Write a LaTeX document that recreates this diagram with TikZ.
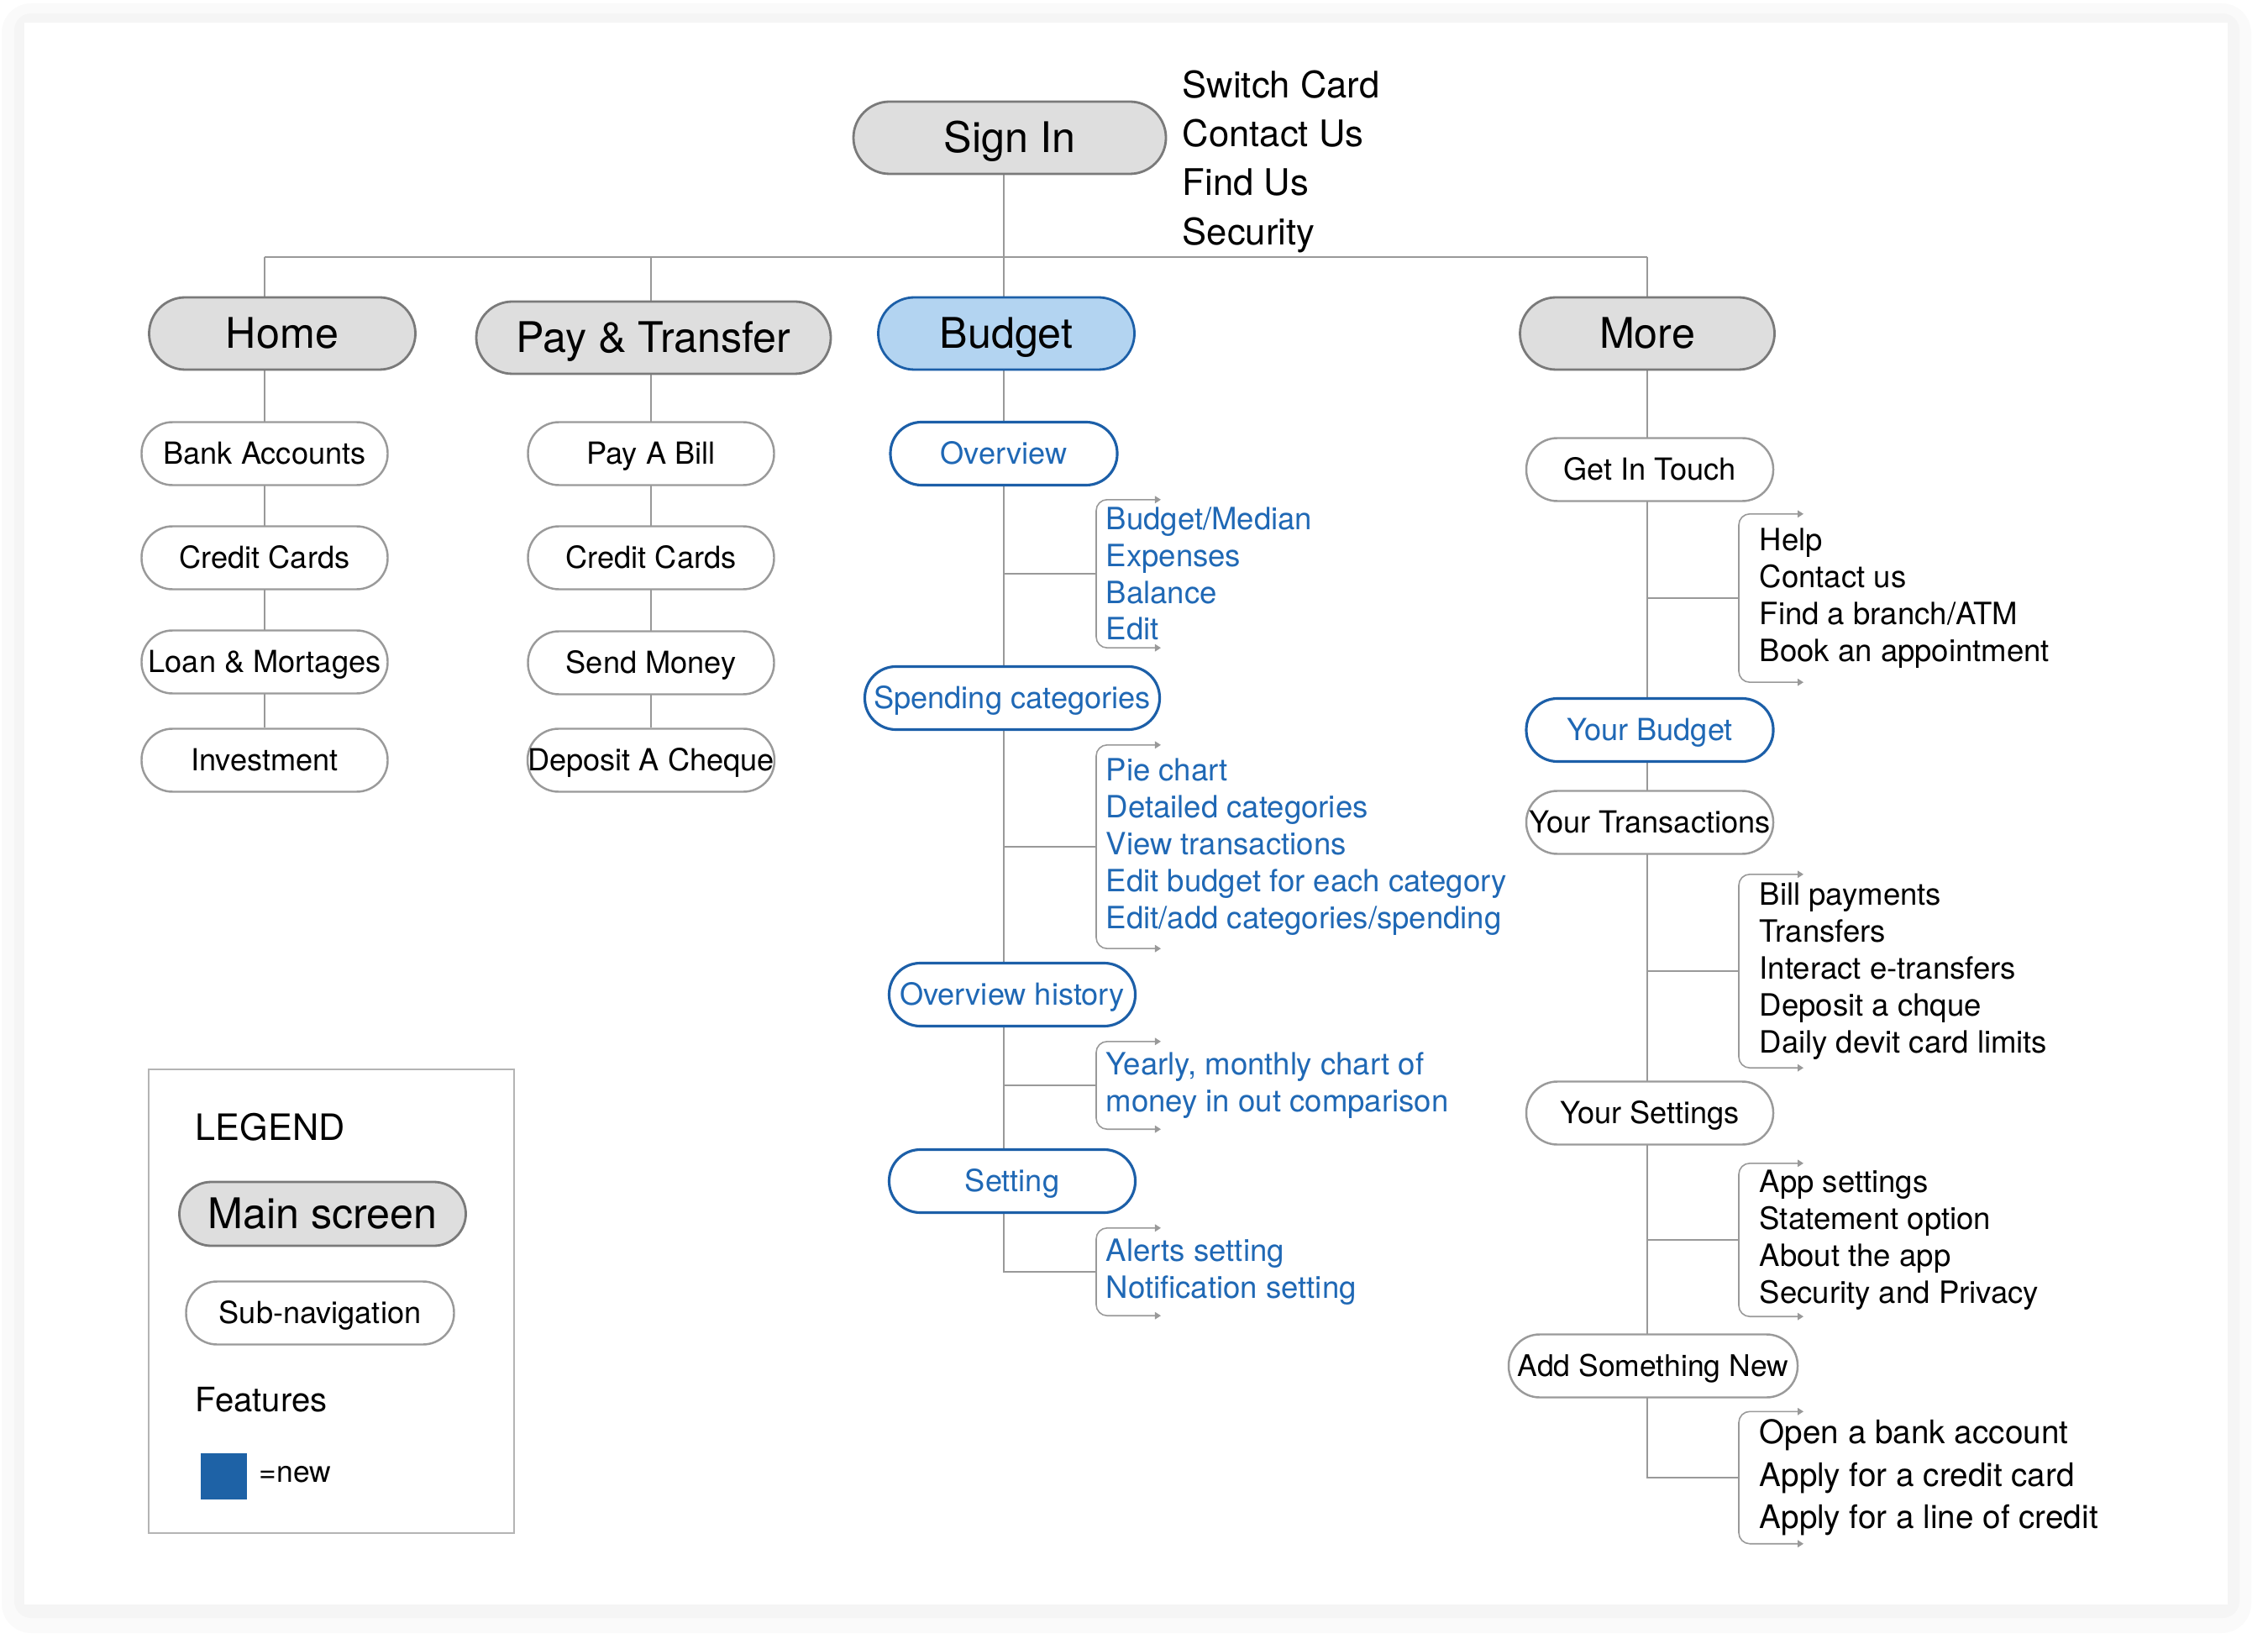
\documentclass[tikz,border=0pt]{standalone}
\usepackage{fontspec}
\setmainfont{TeX Gyre Heros}
\usetikzlibrary{arrows.meta,backgrounds}

\definecolor{mainfill}{HTML}{DEDEDE}
\definecolor{mainline}{HTML}{7A7A7A}
\definecolor{subline}{HTML}{9A9A9A}
\definecolor{linegray}{HTML}{999999}
\definecolor{newfill}{HTML}{B3D4F1}
\definecolor{newline}{HTML}{1C5FA8}
\definecolor{newtext}{HTML}{1F68B5}
\definecolor{newsq}{HTML}{1E62A6}
\definecolor{legendline}{HTML}{B4B4B4}

\begin{document}
\begin{tikzpicture}[
    mainscreen/.style={draw=mainline, fill=mainfill, line width=0.8pt, rounded corners=0.43cm,
      minimum height=0.86cm, inner sep=0pt, text height=10.3pt, text depth=0.6pt,
      font=\fontsize{14.3}{17}\selectfont},
    newmain/.style={mainscreen, draw=newline, fill=newfill},
    subnav/.style={draw=subline, fill=white, line width=0.7pt, rounded corners=0.37cm,
      minimum height=0.75cm, minimum width=2.93cm, inner sep=0pt, text height=7.4pt, text depth=0.4pt,
      font=\fontsize{10.3}{12}\selectfont},
    newsub/.style={subnav, draw=newline, line width=0.9pt, text=newtext},
    featlist/.style={anchor=west, align=left, inner ysep=0pt, font=\fontsize{10.4}{12.5}\selectfont},
    newfeat/.style={featlist, text=newtext, inner xsep=0.11cm},
    oldfeat/.style={featlist, inner xsep=0.24cm},
    link/.style={draw=linegray, line width=0.45pt},
    bracket/.style={link, rounded corners=0.13cm, >={Triangle[length=2pt,width=2.4pt]}, <->}
  ]
  \useasboundingbox (0, 0) rectangle (27, 19.62);

  % top level
  \node[mainscreen, minimum width=3.72cm] (signin) at (12.02, 17.98) {Sign In};
  \node[anchor=west, align=left, inner sep=0pt, font=\fontsize{12.4}{16.6}\selectfont] (signlist) at (14.07, 17.70)
    {Switch Card\\Contact Us\\Find Us\\Security};
  \coordinate (bus) at (0, 16.56);

  \node[mainscreen, minimum width=3.17cm] (home) at (3.36, 15.65) {Home};
  \node[mainscreen, minimum width=4.22cm] (pay) at (7.78, 15.60) {Pay \& Transfer};
  \node[newmain, minimum width=3.05cm] (budget) at (11.98, 15.65) {Budget};
  \node[mainscreen, minimum width=3.03cm] (more) at (19.61, 15.65) {More};

  % home
  \node[subnav] (bankacc) at (3.15, 14.22) {Bank Accounts};
  \node[subnav] (homecredit) at (3.15, 12.98) {Credit Cards};
  \node[subnav] (loan) at (3.15, 11.74) {Loan \& Mortages};
  \node[subnav] (invest) at (3.15, 10.57) {Investment};

  % pay & transfer
  \node[subnav] (paybill) at (7.75, 14.22) {Pay A Bill};
  \node[subnav] (paycredit) at (7.75, 12.98) {Credit Cards};
  \node[subnav] (sendmoney) at (7.75, 11.73) {Send Money};
  \node[subnav] (cheque) at (7.75, 10.57) {Deposit A Cheque};

  % budget
  \node[newsub, minimum width=2.70cm] (overview) at (11.95, 14.22) {Overview};
  \node[newsub, minimum width=3.51cm] (spending) at (12.05, 11.31) {Spending categories};
  \node[newsub] (history) at (12.05, 7.78) {Overview history};
  \node[newsub] (setting) at (12.05, 5.56) {Setting};

  \node[newfeat, minimum height=1.75cm] (ovlist) at (13.05, 12.79) {Budget/Median\\Expenses\\Balance\\Edit};
  \node[newfeat, minimum height=2.41cm] (splist) at (13.05, 9.54)
    {Pie chart\\Detailed categories\\View transactions\\Edit budget for each category\\Edit/add categories/spending};
  \node[newfeat, minimum height=1.03cm] (hilist) at (13.05, 6.70) {Yearly, monthly chart of\\money in out comparison};
  \node[newfeat, minimum height=1.03cm] (selist) at (13.05, 4.48) {Alerts setting\\Notification setting};

  % more
  \node[subnav, minimum width=2.94cm] (touch) at (19.64, 14.03) {Get In Touch};
  \node[newsub, minimum width=2.94cm] (yourbudget) at (19.64, 10.93) {Your Budget};
  \node[subnav, minimum width=2.94cm] (trans) at (19.64, 9.83) {Your Transactions};
  \node[subnav, minimum width=2.94cm] (settings) at (19.64, 6.37) {Your Settings};
  \node[subnav, minimum width=3.44cm, font=\fontsize{10.1}{12}\selectfont] (addnew) at (19.68, 3.36) {Add Something New};

  \node[oldfeat, minimum height=1.99cm] (tolist) at (20.70, 12.50) {Help\\Contact us\\Find a branch/ATM\\Book an appointment};
  \node[oldfeat, minimum height=2.29cm] (trlist) at (20.70, 8.06)
    {Bill payments\\Transfers\\Interact e-transfers\\Deposit a chque\\Daily devit card limits};
  \node[oldfeat, minimum height=1.81cm] (stlist) at (20.70, 4.86)
    {App settings\\Statement option\\About the app\\Security and Privacy};
  \node[oldfeat, minimum height=1.56cm, font=\fontsize{11}{14.4}\selectfont] (nwlist) at (20.70, 2.03)
    {Open a bank account\\Apply for a credit card\\Apply for a line of credit};

  \foreach \l in {ovlist, splist, hilist, selist, tolist, trlist, stlist, nwlist}
    \draw[bracket] ([xshift=0.77cm]\l.north west) -- (\l.north west) -- (\l.south west) -- ([xshift=0.77cm]\l.south west);

  % legend
  \node[draw=legendline, line width=0.5pt, minimum width=4.35cm, minimum height=5.52cm, anchor=north west] (legend) at (1.76, 6.90) {};
  \node[anchor=west, inner sep=0pt, font=\fontsize{12.3}{14}\selectfont] (legendtitle) at (2.32, 6.20) {LEGEND};
  \node[mainscreen, minimum width=3.41cm, minimum height=0.76cm, rounded corners=0.38cm] (legmain) at (3.84, 5.17) {Main screen};
  \node[subnav, minimum width=3.19cm] (legsub) at (3.81, 3.99) {Sub-navigation};
  \node[anchor=west, inner sep=0pt, font=\fontsize{11.4}{13}\selectfont] (features) at (2.32, 2.96) {Features};
  \node[fill=newsq, minimum size=0.55cm, inner sep=0pt, anchor=south west] (newsquare) at (2.38, 1.76) {};
  \node[anchor=west, inner sep=0pt, font=\fontsize{10.1}{12}\selectfont] (newkey) at (3.08, 2.07) {=new};

  \begin{scope}[on background layer]
    % card with soft shadow
    \fill[black!2, rounded corners=0.35cm] (0.02, 0.18) rectangle (26.80, 19.58);
    \fill[black!4, rounded corners=0.2cm] (0.17, 0.36) rectangle (26.66, 19.46);
    \fill[white] (0.29, 0.52) rectangle (26.52, 19.35);

    \draw[link] (overview |- signin.south) -- (overview |- budget.north);
    \draw[link] (bankacc |- bus) -- (more.north |- bus);
    \draw[link] (bankacc |- bus) -- (bankacc |- home.north);
    \draw[link] (bankacc |- home.south) -- (invest.north);
    \draw[link] (paybill |- bus) -- (paybill |- pay.north);
    \draw[link] (paybill |- pay.south) -- (cheque.north);
    \draw[link] (more.north |- bus) -- (more.north);

    \draw[link] (overview |- budget.south) -- (overview |- selist.west) -- (selist.west);
    \foreach \l in {ovlist, splist, hilist}
      \draw[link] (overview |- \l.west) -- (\l.west);
    \draw[link] (more.south) -- (more.south |- nwlist.west) -- (nwlist.west);
    \foreach \l in {tolist, trlist, stlist}
      \draw[link] (more.south |- \l.west) -- (\l.west);
  \end{scope}
\end{tikzpicture}
\end{document}
